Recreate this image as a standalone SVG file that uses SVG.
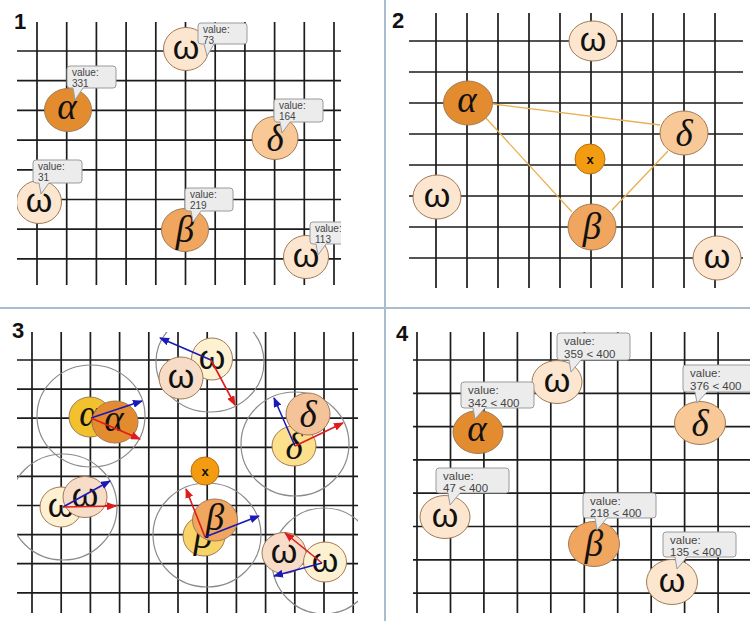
<svg xmlns="http://www.w3.org/2000/svg" width="750" height="621" viewBox="0 0 750 621">
<style>
.grid{stroke:#1c1c1c;stroke-width:1.7;fill:none}
.n{stroke:#a07a55;stroke-width:1}
.ga{font-family:"Liberation Serif","DejaVu Serif",serif;font-style:italic;font-size:37px;text-anchor:middle;fill:#111}
.go{font-family:"Liberation Sans","DejaVu Sans",sans-serif;font-size:34px;text-anchor:middle;fill:#111}
.cl{fill:#ececec;stroke:#9a9a9a;stroke-width:1}
.ct{font-family:"Liberation Sans",Arial,sans-serif;font-size:10px;fill:#444}
.ct4{font-family:"Liberation Sans",Arial,sans-serif;font-size:11.5px;fill:#444}
.big{fill:none;stroke:#8a8a8a;stroke-width:1.2}
.ttl{font-family:"Liberation Sans",Arial,sans-serif;font-weight:bold;font-size:22px;fill:#111}
.cA{fill:#e38b2f}.cB{fill:#f0a65e}.cD{fill:#f8c896}.cW{fill:#fde6cf}
.oA{fill:#f2c12e}.oB{fill:#f8d468}.oD{fill:#fde08c}.oW{fill:#fdf1d2}
.nW{fill:#f7dcc8}.nD{fill:#f4c39a}
.xn{fill:#f39c12;stroke:#b87010;stroke-width:1}
.xt{font-family:"Liberation Sans",Arial,sans-serif;font-weight:bold;font-size:13px;text-anchor:middle;fill:#111}
.edge{stroke:#e8b050;stroke-width:1.3;fill:none}
.red{stroke:#e01b1b;stroke-width:1.6;fill:none;marker-end:url(#ar)}
.blue{stroke:#1a1ab8;stroke-width:1.6;fill:none;marker-end:url(#ab)}
.sep{stroke:#a9bdcf;stroke-width:2}
</style>
<defs>
<marker id="ar" viewBox="0 0 10 8" refX="9" refY="4" markerWidth="10" markerHeight="8" markerUnits="userSpaceOnUse" orient="auto"><path d="M0,0 L10,4 L0,8 Z" fill="#e01b1b"/></marker>
<marker id="ab" viewBox="0 0 10 8" refX="9" refY="4" markerWidth="10" markerHeight="8" markerUnits="userSpaceOnUse" orient="auto"><path d="M0,0 L10,4 L0,8 Z" fill="#1a1ab8"/></marker>
<clipPath id="p1"><rect x="17" y="0" width="324" height="300"/></clipPath>
<clipPath id="p3"><rect x="17" y="332" width="341" height="281"/></clipPath>
<clipPath id="p4"><rect x="413" y="312" width="337" height="309"/></clipPath>
</defs>
<rect width="750" height="621" fill="#ffffff"/>

<!-- separators -->
<line class="sep" x1="385" y1="0" x2="385" y2="621"/>
<line class="sep" x1="0" y1="308" x2="750" y2="308"/>

<!-- ===== Panel 1 ===== -->
<g id="panel1">
<text class="ttl" x="14" y="29">1</text>
<path class="grid" d="M37,22V285M66.7,22V285M96.4,22V285M126.1,22V285M155.8,22V285M185.5,22V285M215.2,22V285M244.9,22V285M274.6,22V285M304.3,22V285M334,22V285M17,51H341M17,80.7H341M17,110.4H341M17,140.1H341M17,169.8H341M17,199.5H341M17,229.2H341M17,258.9H341"/>
<g clip-path="url(#p1)">
<g id="p1-omega1"><ellipse class="n cW" cx="186" cy="49" rx="22.5" ry="21.5"/><text class="go" x="186" y="59">ω</text>
<path class="cl" d="M201,23H244Q247,23 247,26V41Q247,44 244,44H214L207,56L204,44H201Q198,44 198,41V26Q198,23 201,23Z"/><text class="ct" x="203" y="33">value:</text><text class="ct" x="203" y="44">73</text></g>
<g id="p1-alpha"><ellipse class="n cA" cx="68" cy="110" rx="23.5" ry="21.5"/><text class="ga" x="67" y="119">α</text>
<path class="cl" d="M70,66H113Q116,66 116,69V85Q116,88 113,88H83L75,100L73,88H70Q67,88 67,85V69Q67,66 70,66Z"/><text class="ct" x="72" y="76">value:</text><text class="ct" x="72" y="87">331</text></g>
<g id="p1-delta"><ellipse class="n cD" cx="275" cy="138" rx="23" ry="21.5"/><text class="ga" x="275" y="151">δ</text>
<path class="cl" d="M277,99H320Q323,99 323,102V119Q323,122 320,122H290L282,133L280,122H277Q274,122 274,119V102Q274,99 277,99Z"/><text class="ct" x="279" y="109">value:</text><text class="ct" x="279" y="120">164</text></g>
<g id="p1-omega2"><ellipse class="n cW" cx="39" cy="202" rx="22.5" ry="21.5"/><text class="go" x="39" y="212">ω</text>
<path class="cl" d="M36,160H79Q82,160 82,163V180Q82,183 79,183H49L41,194L39,183H36Q33,183 33,180V163Q33,160 36,160Z"/><text class="ct" x="38" y="170">value:</text><text class="ct" x="38" y="181">31</text></g>
<g id="p1-beta"><ellipse class="n cB" cx="185" cy="230" rx="23.5" ry="21.5"/><text class="ga" x="185" y="242">β</text>
<path class="cl" d="M188,188H230Q233,188 233,191V208Q233,211 230,211H201L193,222L191,211H188Q185,211 185,208V191Q185,188 188,188Z"/><text class="ct" x="190" y="198">value:</text><text class="ct" x="190" y="209">219</text></g>
<g id="p1-omega3"><ellipse class="n cW" cx="306" cy="257" rx="22.5" ry="21.5"/><text class="go" x="306" y="267">ω</text>
<path class="cl" d="M313,222H356Q359,222 359,225V241Q359,244 356,244H326L318,255L316,244H313Q310,244 310,241V225Q310,222 313,222Z"/><text class="ct" x="315" y="232">value:</text><text class="ct" x="315" y="243">113</text></g>
</g>
</g>

<!-- ===== Panel 2 ===== -->
<g id="panel2">
<text class="ttl" x="392" y="28">2</text>
<path class="grid" d="M436,13V288M467,13V288M498,13V288M529,13V288M560,13V288M591,13V288M622,13V288M653,13V288M684,13V288M715,13V288M409,41H743M409,72H743M409,103H743M409,134H743M409,165H743M409,196H743M409,227H743M409,258H743"/>
<g id="p2-edges">
<line class="edge" x1="493" y1="104" x2="660" y2="125"/>
<line class="edge" x1="485" y1="117" x2="572" y2="212"/>
<line class="edge" x1="668" y1="151" x2="612" y2="210"/>
</g>
<g id="p2-omega1"><ellipse class="n cW" cx="593" cy="41" rx="24" ry="20"/><text class="go" x="593" y="51">ω</text></g>
<g id="p2-alpha"><ellipse class="n cA" cx="468" cy="103" rx="24.5" ry="22"/><text class="ga" x="467" y="112">α</text></g>
<g id="p2-delta"><ellipse class="n cD" cx="684" cy="133" rx="24" ry="22"/><text class="ga" x="684" y="146">δ</text></g>
<g id="p2-x"><circle class="xn" cx="590" cy="159" r="15"/><text class="xt" x="590" y="164">x</text></g>
<g id="p2-omega2"><ellipse class="n cW" cx="437" cy="197" rx="24" ry="22"/><text class="go" x="437" y="207">ω</text></g>
<g id="p2-beta"><ellipse class="n cB" cx="592" cy="227" rx="24" ry="23"/><text class="ga" x="592" y="239">β</text></g>
<g id="p2-omega3"><ellipse class="n cW" cx="717" cy="258" rx="24" ry="22"/><text class="go" x="717" y="268">ω</text></g>
</g>

<!-- ===== Panel 3 ===== -->
<g id="panel3">
<text class="ttl" x="12" y="338">3</text>
<path class="grid" d="M32,332V613M61.2,332V613M90.4,332V613M119.6,332V613M148.8,332V613M178,332V613M207.2,332V613M236.4,332V613M265.6,332V613M294.8,332V613M324,332V613M353.2,332V613M17,360H358M17,389.1H358M17,418.2H358M17,447.3H358M17,476.4H358M17,505.5H358M17,534.6H358M17,563.7H358M17,592.8H358"/>
<g clip-path="url(#p3)">
<g id="p3-ranges">
<ellipse class="big" cx="91" cy="416" rx="54" ry="51"/>
<ellipse class="big" cx="210" cy="362" rx="54" ry="50"/>
<ellipse class="big" cx="295" cy="444" rx="54" ry="52"/>
<ellipse class="big" cx="63" cy="507" rx="54" ry="53"/>
<ellipse class="big" cx="207" cy="535" rx="54" ry="52"/>
<ellipse class="big" cx="324" cy="561" rx="52" ry="53"/>
</g>
<g id="p3-x"><circle class="xn" cx="205" cy="471" r="14"/><text class="xt" x="205" y="476">x</text></g>
<g id="p3-alpha"><ellipse class="n oA" cx="90" cy="417" rx="21" ry="20"/><text class="ga" x="89" y="426">α</text>
<ellipse class="n cA" cx="115" cy="422" rx="23" ry="21"/><text class="ga" x="114" y="431">α</text></g>
<g id="p3-omega1"><ellipse class="n oW" cx="212" cy="359" rx="20.5" ry="21"/><text class="go" x="212" y="369">ω</text>
<ellipse class="n nW" cx="181" cy="378" rx="22" ry="21"/><text class="go" x="181" y="388">ω</text></g>
<g id="p3-delta"><ellipse class="n oD" cx="294" cy="446" rx="22" ry="20"/><text class="ga" x="294" y="459">δ</text>
<ellipse class="n nD" cx="308" cy="414" rx="22" ry="21"/><text class="ga" x="308" y="427">δ</text></g>
<g id="p3-omega2"><ellipse class="n oW" cx="61" cy="507" rx="21" ry="20"/><text class="go" x="61" y="517">ω</text>
<ellipse class="n nW" cx="85" cy="497" rx="22" ry="20.5"/><text class="go" x="85" y="507">ω</text></g>
<g id="p3-beta"><ellipse class="n oB" cx="204" cy="536" rx="21" ry="20"/><text class="ga" x="203" y="548">β</text>
<ellipse class="n cB" cx="215" cy="520" rx="22.5" ry="21"/><text class="ga" x="215" y="530">β</text></g>
<g id="p3-omega3"><ellipse class="n nW" cx="284" cy="553" rx="22" ry="20.5"/><text class="go" x="284" y="563">ω</text>
<ellipse class="n oW" cx="325" cy="562" rx="21.5" ry="20"/><text class="go" x="325" y="572">ω</text></g>
<g id="p3-arrows">
<line class="blue" x1="91" y1="418" x2="142" y2="401"/>
<line class="red" x1="91" y1="418" x2="140" y2="439"/>
<line class="blue" x1="211" y1="360" x2="160" y2="338"/>
<line class="red" x1="211" y1="360" x2="235" y2="405"/>
<line class="blue" x1="295" y1="446" x2="274" y2="398"/>
<line class="red" x1="295" y1="446" x2="343" y2="423"/>
<line class="blue" x1="63" y1="507" x2="110" y2="481"/>
<line class="red" x1="63" y1="507" x2="116" y2="506"/>
<line class="red" x1="205" y1="537" x2="186" y2="489"/>
<line class="blue" x1="205" y1="537" x2="259" y2="516"/>
<line class="red" x1="322" y1="563" x2="285" y2="533"/>
<line class="blue" x1="322" y1="563" x2="274" y2="576"/>
</g>
</g>
</g>

<!-- ===== Panel 4 ===== -->
<g id="panel4">
<text class="ttl" x="396" y="341">4</text>
<path class="grid" d="M417,332V613M450.5,332V613M483.9,332V613M517.4,332V613M550.8,332V613M584.3,332V613M617.7,332V613M651.2,332V613M684.6,332V613M718.1,332V613M413,360H750M413,393.3H750M413,426.6H750M413,459.9H750M413,493.2H750M413,526.5H750M413,559.8H750M413,593.1H750"/>
<g clip-path="url(#p4)">
<g id="p4-omega1"><ellipse class="n cW" cx="557" cy="382" rx="25" ry="21.5"/><text class="go" x="557" y="392">ω</text>
<path class="cl" d="M560,333H627Q630,333 630,336V357Q630,360 627,360H581L571,372L569,360H560Q557,360 557,357V336Q557,333 560,333Z"/><text class="ct4" x="564" y="345">value:</text><text class="ct4" x="564" y="358">359 &lt; 400</text></g>
<g id="p4-alpha"><ellipse class="n cA" cx="478" cy="432" rx="25" ry="21.5"/><text class="ga" x="477" y="441">α</text>
<path class="cl" d="M464,382H531Q534,382 534,385V405Q534,408 531,408H485L475,419L473,408H464Q461,408 461,405V385Q461,382 464,382Z"/><text class="ct4" x="468" y="394">value:</text><text class="ct4" x="468" y="407">342 &lt; 400</text></g>
<g id="p4-delta"><ellipse class="n cD" cx="700" cy="423" rx="25.5" ry="21.5"/><text class="ga" x="700" y="436">δ</text>
<path class="cl" d="M686,365H753Q756,365 756,368V389Q756,392 753,392H707L697,403L695,392H686Q683,392 683,389V368Q683,365 686,365Z"/><text class="ct4" x="690" y="377">value:</text><text class="ct4" x="690" y="390">376 &lt; 400</text></g>
<g id="p4-omega2"><ellipse class="n cW" cx="445" cy="517" rx="25" ry="21.5"/><text class="go" x="445" y="527">ω</text>
<path class="cl" d="M439,468H506Q509,468 509,471V490Q509,493 506,493H460L450,505L448,493H439Q436,493 436,490V471Q436,468 439,468Z"/><text class="ct4" x="443" y="480">value:</text><text class="ct4" x="443" y="492">47 &lt; 400</text></g>
<g id="p4-beta"><ellipse class="n cB" cx="594" cy="544" rx="25.5" ry="22.5"/><text class="ga" x="594" y="556">β</text>
<path class="cl" d="M586,493H653Q656,493 656,496V515Q656,518 653,518H607L597,530L595,518H586Q583,518 583,515V496Q583,493 586,493Z"/><text class="ct4" x="590" y="505">value:</text><text class="ct4" x="590" y="517">218 &lt; 400</text></g>
<g id="p4-omega3"><ellipse class="n cW" cx="672" cy="582" rx="25.5" ry="22.5"/><text class="go" x="672" y="592">ω</text>
<path class="cl" d="M666,532H733Q736,532 736,535V554Q736,557 733,557H687L677,569L675,557H666Q663,557 663,554V535Q663,532 666,532Z"/><text class="ct4" x="670" y="544">value:</text><text class="ct4" x="670" y="556">135 &lt; 400</text></g>
</g>
</g>
</svg>
